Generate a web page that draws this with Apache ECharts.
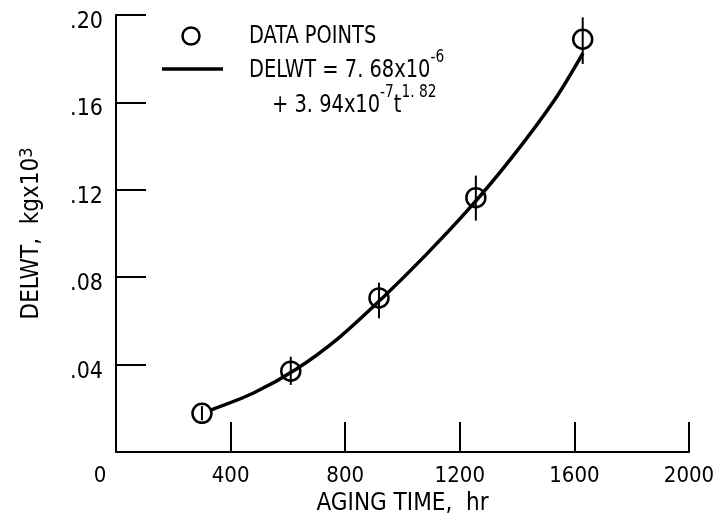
<!DOCTYPE html>
<html lang="en">
<head>
	<meta charset="UTF-8">
	<title>DELWT vs aging time</title>
	<style>
		html, body { margin: 0; padding: 0; background: #fff; }
		#main { width: 713px; height: 521px; }
	</style>
	<script src="https://cdn.jsdelivr.net/npm/echarts@6/dist/echarts.min.js"></script>
</head>
<body>
<div id="main"></div>
<script>
// measured points (hr, kg x 10^3)
var pointT = [300, 610, 918, 1256, 1629];
var pointW = [0.0177, 0.0370, 0.0705, 0.1164, 0.1889];
var errLow = [0.0145, 0.0307, 0.0612, 0.1059, 0.1776];
var errHigh = [0.0210, 0.0436, 0.0775, 0.1265, 0.1989];

// fitted curve
var curveT = [330, 480, 630, 780, 930, 1080, 1230, 1380, 1530, 1630];
var curveW = [0.0192, 0.0270, 0.0380, 0.0525, 0.0705, 0.0900, 0.1110, 0.1345, 0.1610, 0.1826];

var xTicks = [0, 400, 800, 1200, 1600, 2000];
var yTicks = [0, 0.04, 0.08, 0.12, 0.16, 0.20];

var FONT = '"Liberation Sans Narrow", "DejaVu Sans Condensed", "Roboto", sans-serif';

var myChart = echarts.init(document.getElementById('main'));

var points = pointT.map(function (t, i) { return [t, pointW[i]]; });
var bars = pointT.map(function (t, i) { return [t, errLow[i], errHigh[i]]; });
var curve = curveT.map(function (t, i) { return [t, curveW[i]]; });

// main text sits at the bottom of a tall line, superscripts at its top
var supText = {
	a: { fontFamily: FONT, fontSize: 24, lineHeight: 34, fill: '#000', verticalAlign: 'bottom' },
	s: { fontFamily: FONT, fontSize: 17, lineHeight: 17, fill: '#000', verticalAlign: 'top' }
};

var option = {
	backgroundColor: '#fff',
	animation: false,
	textStyle: { fontFamily: FONT, color: '#000' },
	grid: { left: 116, right: 24, top: 15, bottom: 69, containLabel: false, outerBoundsMode: 'none' },
	xAxis: {
		type: 'value',
		min: xTicks[0],
		max: xTicks[xTicks.length - 1],
		interval: 400,
		name: 'AGING TIME,  hr',
		nameLocation: 'middle',
		nameGap: 26,
		nameTextStyle: { fontFamily: FONT, fontSize: 24, color: '#000' },
		axisLine: { lineStyle: { color: '#000', width: 2 } },
		axisTick: { inside: true, length: 30, lineStyle: { color: '#000', width: 2 } },
		axisLabel: {
			fontFamily: FONT, fontSize: 22, color: '#000', margin: 13,
			formatter: function (v) { return v === 0 ? '{z|0}' : String(v); },
			rich: { z: { fontFamily: FONT, fontSize: 22, color: '#000', padding: [0, 32, 0, 0] } }
		},
		splitLine: { show: false }
	},
	yAxis: {
		type: 'value',
		min: yTicks[0],
		max: yTicks[yTicks.length - 1],
		interval: 0.04,
		name: '{n|DELWT,  kgx10}{s|3}',
		nameLocation: 'middle',
		nameRotate: 90,
		nameGap: 70,
		nameTextStyle: {
			rich: {
				n: { fontFamily: FONT, fontSize: 24, color: '#000' },
				s: { fontFamily: FONT, fontSize: 18, color: '#000', verticalAlign: 'top', padding: [0, 0, 10, 0] }
			}
		},
		axisLine: { lineStyle: { color: '#000', width: 2 } },
		axisTick: { inside: true, length: 30, lineStyle: { color: '#000', width: 2 } },
		axisLabel: {
			fontFamily: FONT, fontSize: 23, color: '#000', margin: 13,
			formatter: function (v) {
				if (v === 0) return '';
				return '{d|.' + v.toFixed(2).slice(2) + '}';
			},
			rich: { d: { fontFamily: FONT, fontSize: 23, color: '#000', padding: [14, 0, 0, 0] } }
		},
		splitLine: { show: false }
	},
	graphic: [
		{ type: 'circle', shape: { cx: 191, cy: 36, r: 8.5 }, style: { fill: 'none', stroke: '#000', lineWidth: 2.5 } },
		{ type: 'line', shape: { x1: 162, y1: 69, x2: 223, y2: 69 }, style: { stroke: '#000', lineWidth: 3.5 } },
		{
			type: 'text', x: 249, y: 37, scaleX: 0.9,
			style: { text: 'DATA POINTS', fontFamily: FONT, fontSize: 24, fill: '#000', verticalAlign: 'middle' }
		},
		{
			type: 'text', x: 249, y: 66, scaleX: 0.9,
			style: { text: '{a|DELWT = 7. 68x10}{s|-6}', verticalAlign: 'middle', rich: supText }
		},
		{
			type: 'text', x: 272, y: 101, scaleX: 0.9,
			style: { text: '{a|+ 3. 94x10}{s|-7}{a|t}{s|1. 82}', verticalAlign: 'middle', rich: supText }
		}
	],
	series: [
		{
			name: 'fit',
			type: 'line',
			data: curve,
			smooth: 0.3,
			showSymbol: false,
			lineStyle: { color: '#000', width: 3.5 },
			z: 2
		},
		{
			name: 'bars',
			type: 'custom',
			data: bars,
			renderItem: function (params, api) {
				var lo = api.coord([api.value(0), api.value(1)]);
				var hi = api.coord([api.value(0), api.value(2)]);
				return {
					type: 'line',
					shape: { x1: lo[0], y1: lo[1], x2: hi[0], y2: hi[1] },
					style: { stroke: '#000', lineWidth: 2 }
				};
			},
			z: 3
		},
		{
			name: 'DATA POINTS',
			type: 'scatter',
			data: points,
			symbol: 'circle',
			symbolSize: 19,
			itemStyle: { color: 'rgba(255,255,255,0)', borderColor: '#000', borderWidth: 2.5, opacity: 1 },
			z: 4
		}
	]
};

myChart.setOption(option);
</script>
</body>
</html>
